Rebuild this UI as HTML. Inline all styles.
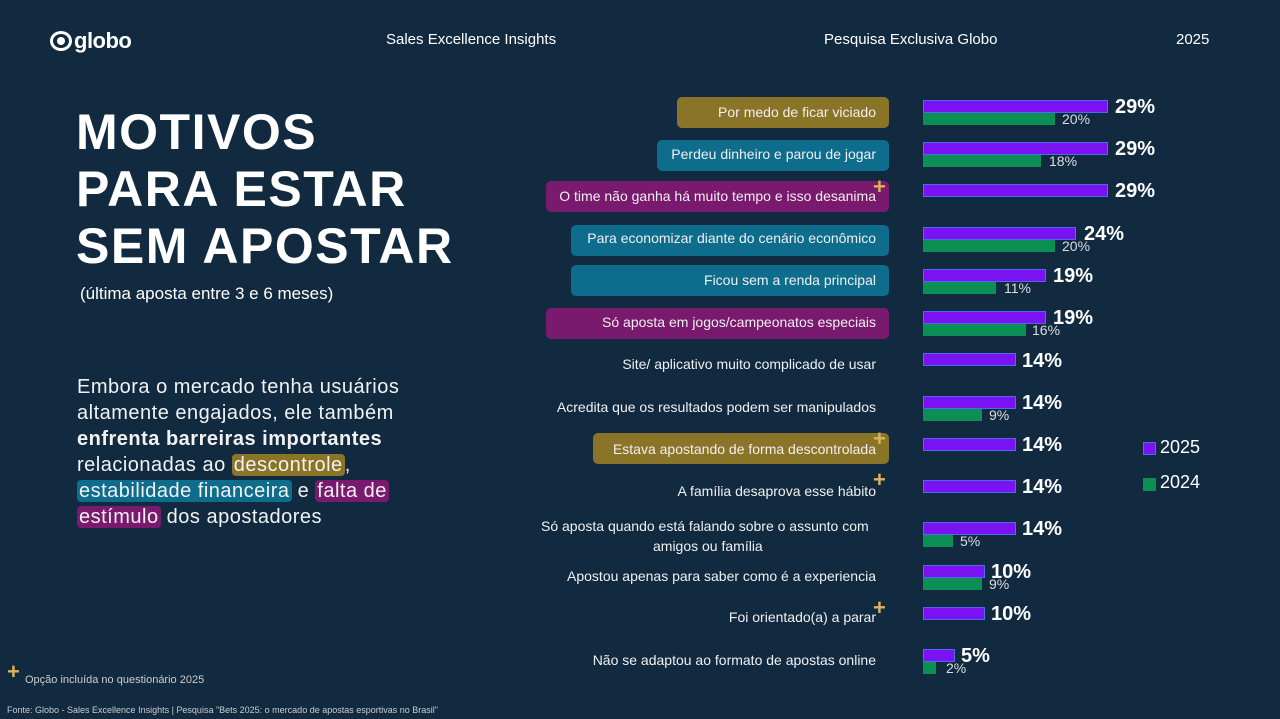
<!DOCTYPE html>
<html><head><meta charset="utf-8"><style>
*{margin:0;padding:0;box-sizing:border-box}
body{width:1280px;height:719px;background:#112a40;font-family:"Liberation Sans",sans-serif;color:#fff;position:relative;overflow:hidden}
.a{position:absolute;white-space:nowrap}
.pill{position:absolute;height:31px;border-radius:5px}
.lab{position:absolute;right:404px;font-size:14px;color:#f0f0f0;white-space:nowrap;text-align:right;line-height:17px}
.p{position:absolute;left:923px;height:13px;background:#7b12f2;border:1.5px solid #4a6cf0}
.g{position:absolute;left:923px;height:12px;background:#0b8f55}
.v{position:absolute;font-size:20px;font-weight:bold}
.s{position:absolute;font-size:14px;color:#ddd}
.plus{position:absolute;color:#d8b45a;font-size:22px;font-weight:bold;line-height:1}
.hl{border-radius:4px;padding:0 2px}
</style></head><body>
<div class="a" style="left:50px;top:28px;font-size:22px;font-weight:bold;letter-spacing:-0.5px"><span style="display:inline-block;width:22px;height:20px;border:3px solid #fff;border-radius:50%;vertical-align:-3px;margin-right:2px;position:relative"><span style="position:absolute;left:4px;top:3px;width:8px;height:8px;background:#fff;border-radius:50%"></span></span>globo</div>
<div class="a" style="left:386px;top:31px;font-size:15px">Sales Excellence Insights</div>
<div class="a" style="left:824px;top:31px;font-size:15px">Pesquisa Exclusiva Globo</div>
<div class="a" style="left:1176px;top:31px;font-size:15px">2025</div>
<div class="a" style="left:76px;top:104px;font-size:50px;font-weight:bold;line-height:57px;letter-spacing:1.5px">MOTIVOS<br>PARA ESTAR<br>SEM APOSTAR</div>
<div class="a" style="left:80px;top:284px;font-size:17px">(última aposta entre 3 e 6 meses)</div>
<div class="a" style="left:77px;top:374px;font-size:20px;line-height:26px;color:#f2f2f2;letter-spacing:0.5px">Embora o mercado tenha usuários<br>altamente engajados, ele também<br><b>enfrenta barreiras importantes</b><br>relacionadas ao <span class="hl" style="background:#8a7428">descontrole</span>,<br><span class="hl" style="background:#0e6c8c">estabilidade financeira</span> e <span class="hl" style="background:#7a1a6e">falta de</span><br><span class="hl" style="background:#7a1a6e">estímulo</span> dos apostadores</div>
<div class="plus" style="left:7px;top:661px">+</div>
<div class="a" style="left:25px;top:674px;font-size:11px;color:#ccc">Opção  incluída no questionário 2025</div>
<div class="a" style="left:7px;top:705px;font-size:9px;color:#ccc">Fonte: Globo - Sales Excellence Insights | Pesquisa "Bets 2025: o mercado de apostas esportivas no Brasil"</div>

<div class="pill" style="left:677px;top:97px;width:212px;background:#8a7428"></div>
<div class="pill" style="left:657px;top:140px;width:232px;background:#0e6c8c"></div>
<div class="pill" style="left:546px;top:181px;width:343px;background:#7a1a6e"></div>
<div class="pill" style="left:571px;top:225px;width:318px;background:#0e6c8c"></div>
<div class="pill" style="left:571px;top:265px;width:318px;background:#0e6c8c"></div>
<div class="pill" style="left:546px;top:308px;width:343px;background:#7a1a6e"></div>
<div class="pill" style="left:593px;top:433px;width:296px;background:#8a7428"></div>

<div class="lab" style="top:104px">Por medo de ficar viciado</div>
<div class="lab" style="top:146px">Perdeu dinheiro e parou de jogar</div>
<div class="lab" style="top:188px">O time não ganha há muito tempo e isso desanima</div>
<div class="lab" style="top:230px">Para economizar diante do cenário econômico</div>
<div class="lab" style="top:272px">Ficou sem a renda principal</div>
<div class="lab" style="top:314px">Só aposta em jogos/campeonatos especiais</div>
<div class="lab" style="top:356px">Site/ aplicativo muito complicado de usar</div>
<div class="lab" style="top:399px">Acredita que os resultados podem ser manipulados</div>
<div class="lab" style="top:441px">Estava apostando de forma descontrolada</div>
<div class="lab" style="top:483px">A família desaprova esse hábito</div>
<div class="lab" style="top:516px;text-align:left;right:auto;left:541px;line-height:20px">Só aposta quando está falando sobre o assunto com<br><span style="padding-left:112px">amigos ou família</span></div>
<div class="lab" style="top:568px">Apostou apenas para saber como é a experiencia</div>
<div class="lab" style="top:609px">Foi orientado(a) a parar</div>
<div class="lab" style="top:652px">Não se adaptou ao formato de apostas online</div>

<div class="plus" style="left:873px;top:176px">+</div>
<div class="plus" style="left:873px;top:428px">+</div>
<div class="plus" style="left:873px;top:469px">+</div>
<div class="plus" style="left:873px;top:597px">+</div>

<div class="p" style="top:100px;width:185px"></div><div class="g" style="top:113px;width:132px"></div>
<div class="v" style="left:1115px;top:96px">29%</div><div class="s" style="left:1062px;top:111px">20%</div>
<div class="p" style="top:142px;width:185px"></div><div class="g" style="top:155px;width:118px"></div>
<div class="v" style="left:1115px;top:138px">29%</div><div class="s" style="left:1049px;top:153px">18%</div>
<div class="p" style="top:184px;width:185px"></div>
<div class="v" style="left:1115px;top:180px">29%</div>
<div class="p" style="top:227px;width:153px"></div><div class="g" style="top:240px;width:132px"></div>
<div class="v" style="left:1084px;top:223px">24%</div><div class="s" style="left:1062px;top:238px">20%</div>
<div class="p" style="top:269px;width:123px"></div><div class="g" style="top:282px;width:73px"></div>
<div class="v" style="left:1053px;top:265px">19%</div><div class="s" style="left:1004px;top:280px">11%</div>
<div class="p" style="top:311px;width:123px"></div><div class="g" style="top:324px;width:103px"></div>
<div class="v" style="left:1053px;top:307px">19%</div><div class="s" style="left:1032px;top:322px">16%</div>
<div class="p" style="top:353px;width:93px"></div>
<div class="v" style="left:1022px;top:350px">14%</div>
<div class="p" style="top:396px;width:93px"></div><div class="g" style="top:409px;width:59px"></div>
<div class="v" style="left:1022px;top:392px">14%</div><div class="s" style="left:989px;top:407px">9%</div>
<div class="p" style="top:438px;width:93px"></div>
<div class="v" style="left:1022px;top:434px">14%</div>
<div class="p" style="top:480px;width:93px"></div>
<div class="v" style="left:1022px;top:476px">14%</div>
<div class="p" style="top:522px;width:93px"></div><div class="g" style="top:535px;width:30px"></div>
<div class="v" style="left:1022px;top:518px">14%</div><div class="s" style="left:960px;top:533px">5%</div>
<div class="p" style="top:565px;width:62px"></div><div class="g" style="top:578px;width:59px"></div>
<div class="v" style="left:991px;top:561px">10%</div><div class="s" style="left:989px;top:576px">9%</div>
<div class="p" style="top:607px;width:62px"></div>
<div class="v" style="left:991px;top:603px">10%</div>
<div class="p" style="top:649px;width:32px"></div><div class="g" style="top:662px;width:13px"></div>
<div class="v" style="left:961px;top:645px">5%</div><div class="s" style="left:946px;top:660px">2%</div>

<div class="a" style="left:1143px;top:442px;width:13px;height:13px;background:#7b12f2;border:1.5px solid #4a6cf0"></div>
<div class="a" style="left:1160px;top:437px;font-size:18px">2025</div>
<div class="a" style="left:1143px;top:478px;width:13px;height:13px;background:#0b8f55"></div>
<div class="a" style="left:1160px;top:472px;font-size:18px">2024</div>
</body></html>
